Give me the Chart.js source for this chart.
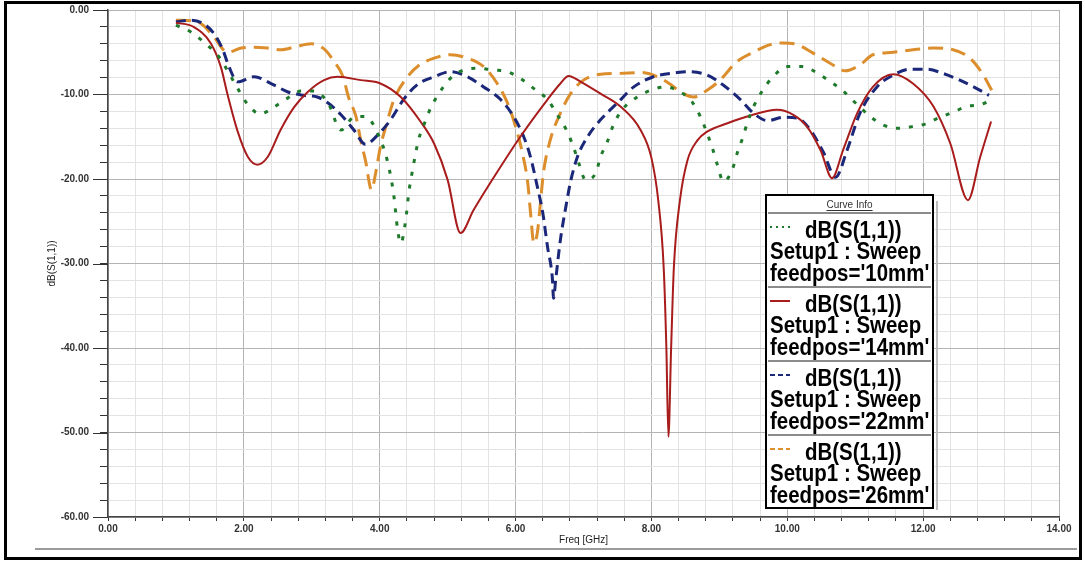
<!DOCTYPE html>
<html>
<head>
<meta charset="utf-8">
<script src="https://cdn.jsdelivr.net/npm/chart.js@4.4.1/dist/chart.umd.min.js"></script>
<style>
  html, body { margin: 0; padding: 0; background: #fff; }
  canvas { display: block; }
</style>
</head>
<body>
<canvas id="chart" width="1085" height="563"></canvas>
<script>
// feedpos = 10mm (green, dotted)
const freq10 = [1.0, 1.22, 1.41, 1.63, 1.81, 1.91, 2.06, 2.24, 2.44, 2.65, 2.84, 3.03, 3.24, 3.43, 3.6, 3.79, 3.97, 4.12, 4.21, 4.26, 4.31, 4.38, 4.43, 4.48, 4.57, 4.65, 4.75, 4.87, 5.04, 5.24, 5.46, 5.66, 5.88, 6.07, 6.27, 6.47, 6.63, 6.76, 6.86, 6.93, 7.03, 7.18, 7.25, 7.35, 7.44, 7.57, 7.79, 7.99, 8.2, 8.38, 8.6, 8.72, 8.82, 8.9, 8.97, 9.06, 9.19, 9.26, 9.34, 9.41, 9.5, 9.63, 9.79, 10.0, 10.22, 10.41, 10.6, 10.81, 11.03, 11.22, 11.41, 11.63, 11.84, 12.03, 12.22, 12.44, 12.65, 12.84, 13.0];
const db10 = [-1.8, -2.6, -3.8, -5.5, -7.9, -9.3, -11.2, -12.3, -11.5, -10.4, -9.6, -9.6, -11.0, -14.2, -12.8, -12.6, -14.6, -18.1, -22.1, -25.8, -27.6, -25.0, -21.5, -19.1, -15.4, -13.6, -11.6, -9.9, -8.1, -7.1, -6.9, -7.1, -7.3, -8.1, -9.3, -10.6, -12.6, -14.4, -16.4, -18.1, -20.1, -19.3, -17.4, -15.6, -13.6, -11.8, -10.3, -9.5, -9.1, -9.5, -10.9, -12.6, -14.6, -16.4, -18.3, -20.3, -18.9, -17.0, -15.2, -13.4, -11.5, -9.6, -7.9, -6.7, -6.7, -7.3, -8.3, -9.5, -11.2, -12.6, -13.6, -14.0, -13.8, -13.5, -12.8, -12.1, -11.4, -11.2, -10.7];

// feedpos = 14mm (red, solid)
const freq14 = [1.0, 1.26, 1.51, 1.66, 1.76, 1.91, 2.06, 2.2, 2.35, 2.54, 2.74, 2.94, 3.18, 3.38, 3.72, 4.01, 4.31, 4.6, 4.8, 5.0, 5.19, 5.38, 5.68, 6.07, 6.47, 6.66, 6.78, 6.96, 7.25, 7.54, 7.84, 8.0, 8.1, 8.18, 8.22, 8.25, 8.29, 8.33, 8.42, 8.53, 8.68, 8.82, 9.12, 9.41, 9.85, 10.09, 10.29, 10.49, 10.66, 10.82, 11.03, 11.26, 11.56, 11.85, 12.15, 12.4, 12.66, 12.84, 13.0];
const db14 = [-1.5, -2.0, -3.9, -6.7, -10.0, -14.4, -17.4, -18.3, -17.4, -14.2, -11.5, -9.7, -8.3, -7.9, -8.3, -8.7, -10.3, -13.2, -15.8, -20.1, -26.4, -23.7, -19.8, -15.0, -10.6, -8.7, -7.8, -8.5, -9.9, -11.4, -14.2, -17.5, -22.5, -30.4, -40.0, -50.5, -40.0, -30.5, -22.5, -17.8, -15.4, -14.4, -13.4, -12.6, -11.8, -12.4, -13.8, -16.6, -19.9, -16.6, -12.2, -9.1, -7.6, -8.7, -11.4, -15.8, -22.5, -17.4, -13.2];

// feedpos = 22mm (navy, dashed)
const freq22 = [1.0, 1.22, 1.4, 1.56, 1.69, 1.78, 1.91, 2.15, 2.4, 2.65, 2.88, 3.08, 3.24, 3.43, 3.62, 3.79, 3.97, 4.16, 4.35, 4.56, 4.8, 5.04, 5.29, 5.53, 5.78, 5.97, 6.12, 6.22, 6.32, 6.4, 6.47, 6.54, 6.56, 6.59, 6.66, 6.74, 6.81, 6.91, 7.06, 7.25, 7.5, 7.74, 8.03, 8.38, 8.53, 8.82, 9.06, 9.31, 9.5, 9.71, 9.94, 10.15, 10.34, 10.53, 10.71, 10.88, 11.07, 11.32, 11.56, 11.81, 12.06, 12.29, 12.54, 12.79, 12.97];
const db22 = [-1.4, -1.2, -1.6, -2.8, -4.7, -6.7, -8.5, -7.9, -8.7, -9.7, -10.1, -10.3, -11.0, -12.4, -14.2, -15.9, -14.8, -13.0, -10.6, -8.8, -7.9, -7.3, -7.9, -9.1, -10.6, -12.6, -15.0, -17.4, -20.9, -24.0, -28.0, -31.6, -34.1, -32.0, -27.2, -23.3, -20.3, -17.4, -15.0, -13.0, -11.0, -9.1, -7.9, -7.4, -7.3, -7.7, -8.9, -10.6, -12.2, -13.1, -12.7, -12.8, -14.2, -16.8, -19.8, -16.6, -12.2, -9.1, -7.7, -7.0, -7.0, -7.5, -8.3, -9.3, -10.1];

// feedpos = 26mm (orange, long dashes)
const freq26 = [1.0, 1.26, 1.4, 1.56, 1.76, 1.96, 2.15, 2.35, 2.54, 2.74, 2.99, 3.18, 3.32, 3.46, 3.54, 3.65, 3.72, 3.79, 3.88, 3.94, 4.01, 4.09, 4.21, 4.41, 4.57, 4.8, 5.04, 5.29, 5.53, 5.73, 5.88, 6.0, 6.1, 6.18, 6.22, 6.27, 6.32, 6.37, 6.41, 6.51, 6.66, 6.81, 7.0, 7.25, 7.54, 7.84, 8.09, 8.28, 8.43, 8.62, 8.82, 9.01, 9.26, 9.5, 9.75, 9.94, 10.15, 10.38, 10.63, 10.85, 11.07, 11.26, 11.56, 11.85, 12.15, 12.44, 12.69, 12.87, 13.01];
const db26 = [-1.2, -1.3, -1.8, -3.2, -5.0, -4.5, -4.4, -4.5, -4.7, -4.4, -4.0, -4.6, -6.0, -7.9, -10.3, -12.6, -15.4, -17.8, -21.3, -19.3, -16.2, -13.8, -10.6, -7.9, -6.6, -5.7, -5.3, -5.7, -6.7, -8.7, -11.0, -13.8, -16.9, -20.5, -24.0, -27.6, -26.4, -22.5, -19.3, -15.4, -12.2, -9.9, -8.3, -7.6, -7.5, -7.4, -7.9, -8.8, -9.7, -10.3, -9.5, -8.3, -6.1, -5.0, -4.1, -3.9, -4.1, -5.1, -6.3, -7.2, -6.5, -5.3, -5.0, -4.7, -4.5, -4.7, -5.7, -7.5, -9.5];

const feedLabels = ["feedpos='10mm'", "feedpos='14mm'", "feedpos='22mm'", "feedpos='26mm'"];
const xTickLabels = ['0.00', '2.00', '4.00', '6.00', '8.00', '10.00', '12.00', '14.00'];
const yTickLabels = ['0.00', '-10.00', '-20.00', '-30.00', '-40.00', '-50.00', '-60.00'];

const styles = [
    { color: '#1f7a2c', width: 3, dash: [4, 9] },
    { color: '#a81c1c', width: 2, dash: [] },
    { color: '#1b2778', width: 3, dash: [10, 6] },
    { color: '#dc8e2c', width: 3, dash: [15, 8] }
];

const tickFont = { family: '"Liberation Sans", Arial, sans-serif', size: 10, weight: 'bold' };

function pts(xs, ys) {
    return xs.map((x, i) => ({ x: x, y: ys[i] }));
}

const series = [pts(freq10, db10), pts(freq14, db14), pts(freq22, db22), pts(freq26, db26)];

function isMajor(v, step) {
    const r = v / step;
    return Math.abs(r - Math.round(r)) < 1e-6;
}

// frame, grey rule, longer major ticks and the "Curve Info" box
const decorPlugin = {
    id: 'decor',
    afterDraw(chart) {
        const ctx = chart.ctx;
        const area = chart.chartArea;
        const ys = chart.scales.y;
        ctx.save();

        ctx.strokeStyle = '#333';
        ctx.lineWidth = 1;
        yTickLabels.forEach((t, i) => {
            const py = Math.round(ys.getPixelForValue(-10 * i)) + 0.5;
            ctx.beginPath();
            ctx.moveTo(area.left - 15, py);
            ctx.lineTo(area.left, py);
            ctx.stroke();
        });

        ctx.strokeStyle = '#9a9a9a';
        ctx.lineWidth = 2;
        ctx.beginPath();
        ctx.moveTo(35, 549);
        ctx.lineTo(1077, 549);
        ctx.stroke();

        ctx.strokeStyle = '#000';
        ctx.lineWidth = 3;
        ctx.strokeRect(5.5, 2.5, 1075, 556);

        // legend box
        const bx = 766, by = 195, bw = 167, bh = 313;
        ctx.fillStyle = '#fff';
        ctx.fillRect(bx, by, bw, bh);
        ctx.strokeStyle = '#bdbdbd';
        ctx.lineWidth = 2;
        ctx.beginPath();
        ctx.moveTo(bx + bw + 4, by + 6);
        ctx.lineTo(bx + bw + 4, by + bh + 2);
        ctx.stroke();
        ctx.strokeStyle = '#000';
        ctx.lineWidth = 2;
        ctx.strokeRect(bx, by, bw, bh);

        ctx.fillStyle = '#333';
        ctx.font = '10px "Liberation Sans", Arial, sans-serif';
        ctx.textAlign = 'center';
        ctx.textBaseline = 'middle';
        ctx.fillText('Curve Info', bx + bw / 2, 205);
        const tw = ctx.measureText('Curve Info').width;
        ctx.fillRect(bx + bw / 2 - tw / 2, 210, tw, 1);

        ctx.textAlign = 'left';
        ctx.font = 'bold 22px "Liberation Sans", Arial, sans-serif';
        const drawText = (t, x, y) => {
            ctx.save();
            ctx.translate(x, y);
            ctx.scale(0.93, 1.05);
            ctx.fillStyle = '#000';
            ctx.fillText(t, 0, 0);
            ctx.restore();
        };

        for (let i = 0; i < 4; i++) {
            const y0 = 213 + 74 * i;
            ctx.strokeStyle = '#8c8c8c';
            ctx.lineWidth = 2;
            ctx.setLineDash([]);
            ctx.beginPath();
            ctx.moveTo(bx + 2, y0);
            ctx.lineTo(bx + bw - 2, y0);
            ctx.stroke();

            const s = styles[i];
            ctx.strokeStyle = s.color;
            ctx.lineWidth = 2;
            ctx.setLineDash(i === 0 ? [2, 4] : (i === 1 ? [] : [5, 3]));
            ctx.beginPath();
            ctx.moveTo(770, y0 + 14);
            ctx.lineTo(790, y0 + 14);
            ctx.stroke();
            ctx.setLineDash([]);

            drawText('dB(S(1,1))', 805, y0 + 19);
            drawText('Setup1 : Sweep', 770, y0 + 40);
            drawText(feedLabels[i], 770, y0 + 62);
        }
        ctx.restore();
    }
};

new Chart(document.getElementById('chart'), {
    type: 'line',
    data: {
        datasets: series.map((d, i) => ({
            label: feedLabels[i],
            data: d,
            borderColor: styles[i].color,
            borderWidth: styles[i].width,
            borderDash: styles[i].dash,
            pointRadius: 0,
            fill: false,
            cubicInterpolationMode: 'monotone'
        }))
    },
    options: {
        responsive: false,
        animation: false,
        devicePixelRatio: 1,
        layout: { padding: { left: 0, top: 10, right: 26, bottom: 13 } },
        plugins: {
            legend: { display: false },
            tooltip: { enabled: false }
        },
        scales: {
            x: {
                type: 'linear',
                min: 0,
                max: 14,
                afterFit: s => { s.height = 33; },
                ticks: {
                    stepSize: 0.4,
                    autoSkip: false,
                    maxRotation: 0,
                    padding: 2,
                    color: '#333',
                    font: tickFont,
                    callback: v => isMajor(v, 2) ? xTickLabels[Math.round(v / 2)] : ''
                },
                grid: {
                    color: c => isMajor(c.tick.value, 2) ? '#b4b4b4' : '#e3e3e3',
                    tickColor: '#333',
                    tickLength: 4
                },
                border: { color: '#444', width: 1.5 },
                title: {
                    display: true,
                    text: 'Freq [GHz]',
                    color: '#222',
                    font: { family: '"Liberation Sans", Arial, sans-serif', size: 10 },
                    padding: { top: 0, bottom: 4 }
                }
            },
            y: {
                min: -60,
                max: 0,
                afterFit: s => { s.width = 108; s.paddingTop = 0; s.paddingBottom = 0; },
                ticks: {
                    stepSize: 2,
                    autoSkip: false,
                    padding: 11,
                    color: '#333',
                    font: tickFont,
                    callback: v => isMajor(v, 10) ? yTickLabels[Math.round(-v / 10)] : ''
                },
                grid: {
                    color: c => isMajor(c.tick.value, 10) ? '#b4b4b4' : '#e3e3e3',
                    tickColor: '#333',
                    tickLength: 8
                },
                border: { color: '#444', width: 1.5 },
                title: {
                    display: true,
                    text: 'dB(S(1,1))',
                    color: '#222',
                    font: { family: '"Liberation Sans", Arial, sans-serif', size: 10 },
                    padding: { top: 46, bottom: 0 }
                }
            }
        }
    },
    plugins: [decorPlugin]
});
</script>
</body>
</html>
